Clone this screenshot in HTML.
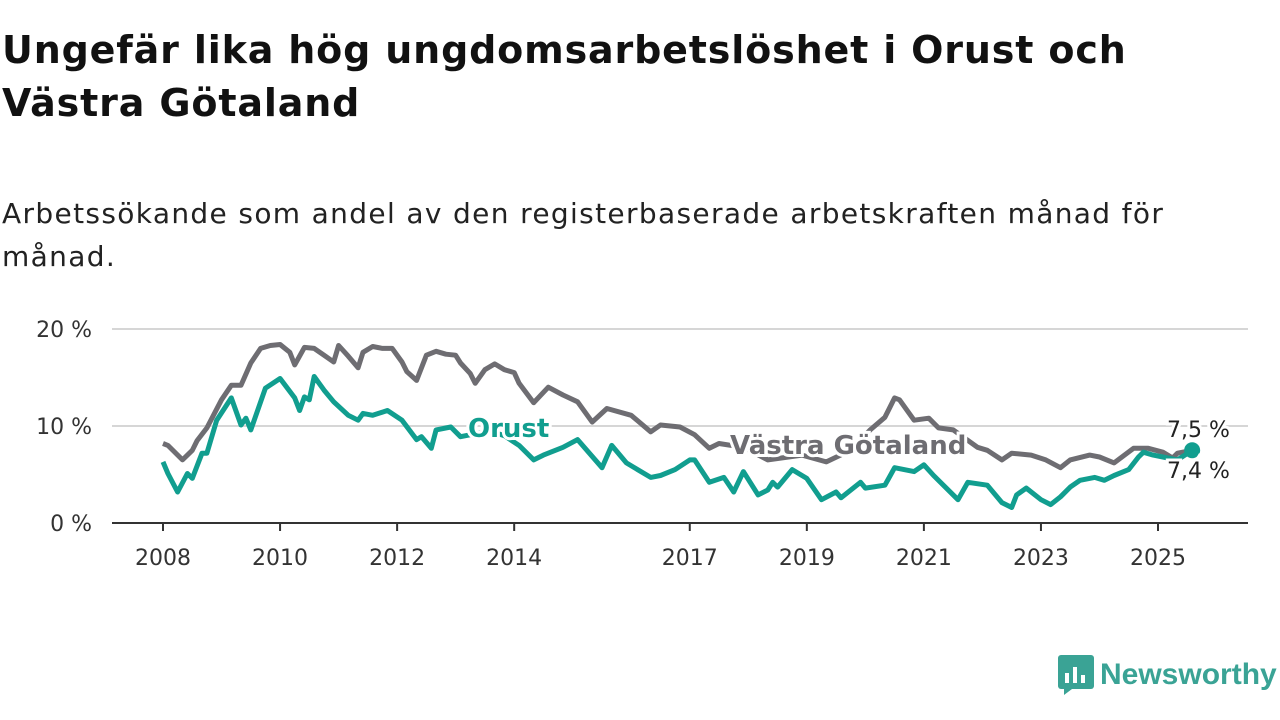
<!DOCTYPE html>
<html><head><meta charset="utf-8">
<style>
body{margin:0;width:1280px;height:720px;background:#fff;font-family:"DejaVu Sans",sans-serif;overflow:hidden}
h1{position:absolute;left:2px;top:24px;margin:0;font-size:38px;line-height:53px;font-weight:bold;color:#111;letter-spacing:0.85px}
p{position:absolute;left:2px;top:192px;margin:0;font-size:28px;line-height:43px;color:#222;letter-spacing:1.35px}
svg{position:absolute;left:0;top:0}
</style></head><body>
<h1>Ungefär lika hög ungdomsarbetslöshet i Orust och<br>Västra Götaland</h1>
<p>Arbetssökande som andel av den registerbaserade arbetskraften månad för<br>månad.</p>
<svg id="chart" width="1280" height="720"></svg>
<script>
const yTicks=[0,10,20];
const yTickLabels=["0 %","10 %","20 %"];
const xTicks=[2008,2010,2012,2014,2017,2019,2021,2023,2025];
// months since Jan 2008
const vgMonths=[0,1,4,6,7,9,12,14,16,18,20,22,24,26,27,29,31,33,35,36,38,40,41,43,45,47,49,50,52,54,56,58,60,61,63,64,66,68,70,72,73,76,79,82,85,88,91,96,100,102,106,109,112,114,119,124,131,136,141,145,148,150,151,154,157,159,162,167,169,172,174,178,181,184,186,190,192,195,199,202,205,207,208,211];
const vgValues=[8.2,8.0,6.5,7.5,8.5,9.8,12.7,14.2,14.2,16.5,18.0,18.3,18.4,17.6,16.3,18.1,18.0,17.3,16.6,18.3,17.2,16.0,17.6,18.2,18.0,18.0,16.6,15.6,14.7,17.3,17.7,17.4,17.3,16.5,15.4,14.4,15.8,16.4,15.8,15.5,14.4,12.4,14.0,13.2,12.5,10.4,11.8,11.1,9.4,10.1,9.9,9.1,7.7,8.2,7.8,6.5,7.0,6.3,7.5,9.6,10.9,12.9,12.7,10.6,10.8,9.8,9.6,7.8,7.5,6.5,7.2,7.0,6.5,5.7,6.5,7.0,6.8,6.2,7.7,7.7,7.3,6.7,7.2,7.5];
const orMonths=[0,1,3,5,6,8,9,11,14,16,17,18,21,24,27,28,29,30,31,33,35,38,40,41,43,46,49,52,53,55,56,59,61,67,70,73,76,78,82,85,90,92,95,100,102,105,108,109,112,115,117,119,122,124,125,126,129,132,135,138,139,143,144,148,150,154,156,158,163,165,169,172,174,175,177,180,182,184,186,188,191,193,195,198,200,201,203,205,208,211];
const orValues=[6.3,5.1,3.2,5.1,4.6,7.2,7.2,10.6,12.9,10.1,10.8,9.6,13.9,14.9,12.9,11.6,13.0,12.7,15.1,13.7,12.5,11.1,10.6,11.3,11.1,11.6,10.6,8.6,8.9,7.7,9.6,9.9,8.9,9.5,9.0,8.0,6.5,7.0,7.8,8.6,5.7,8.0,6.2,4.7,4.9,5.5,6.5,6.5,4.2,4.7,3.2,5.3,2.9,3.4,4.2,3.7,5.5,4.6,2.4,3.2,2.6,4.2,3.6,3.9,5.7,5.3,6.0,4.9,2.4,4.2,3.9,2.1,1.6,2.9,3.6,2.4,1.9,2.7,3.7,4.4,4.7,4.4,4.9,5.5,6.8,7.3,7.0,6.8,6.5,7.5];
const endLabels=["7,5 %","7,4 %"];

const NS="http://www.w3.org/2000/svg";
const svg=document.getElementById('chart');
const FF='DejaVu Sans, sans-serif';
const X=yr=>163+(yr-2008)*58.53;
const XM=m=>X(2008+m/12);
const Y=v=>523-v*9.7;
function mk(t,a,p){const e=document.createElementNS(NS,t);for(const k in a)e.setAttribute(k,a[k]);(p||svg).appendChild(e);return e;}

yTicks.forEach((v,i)=>{
  if(v>0){const g=mk('line',{x1:112,x2:1248,y1:Y(v),y2:Y(v),stroke:'#d6d6d6','stroke-width':2});
  
  }
  const t=mk('text',{x:92,y:Y(v)+8,'text-anchor':'end','font-size':22,fill:'#333','font-family':FF});
  t.textContent=yTickLabels[i];
  
  
});
const ax=mk('line',{x1:112,x2:1248,y1:Y(0),y2:Y(0),stroke:'#333','stroke-width':2});


xTicks.forEach(yr=>{
  const tk=mk('line',{x1:X(yr),x2:X(yr),y1:Y(0),y2:Y(0)+8,stroke:'#333','stroke-width':2});
  
  
  const t=mk('text',{x:X(yr),y:565,'text-anchor':'middle','font-size':22,fill:'#333','font-family':FF});
  t.textContent=yr;
  
  
});
function line(ms,vs,col,name){
  const d=ms.map((m,i)=>(i?'L':'M')+XM(m).toFixed(1)+' '+Y(vs[i]).toFixed(1)).join(' ');
  const p=mk('path',{d:d,fill:'none',stroke:col,'stroke-width':5,'stroke-linejoin':'round'});
  
  
}
line(vgMonths,vgValues,'#6e6d72','series-vastra-gotaland');
line(orMonths,orValues,'#119e8f','series-orust');
const dot=mk('circle',{cx:XM(orMonths[orMonths.length-1]),cy:Y(orValues[orValues.length-1]),r:8,fill:'#119e8f'});



function lbl(x,y,txt,col,size,bold,name){
  const t=mk('text',{x:x,y:y,'font-size':size,'font-weight':bold?'bold':'normal',fill:col,stroke:'#fff','stroke-width':6,'paint-order':'stroke','font-family':FF});
  t.textContent=txt;
  
  
}
lbl(468,437,'Orust','#119e8f',26,true,'orust-label');
lbl(730,454,'Västra Götaland','#6e6d72',26,true,'vastra-gotaland-label');
lbl(1167,437,endLabels[0],'#222',22,false,'end-value-vg');
lbl(1167,478,endLabels[1],'#222',22,false,'end-value-orust');
</script>
<div style="position:absolute;left:1058px;top:655px;display:flex;align-items:center">
<svg width="36" height="40" style="position:static"><rect x="0" y="0" width="36" height="34" rx="3" fill="#3aa395"/><polygon points="6,34 14,34 6,40" fill="#3aa395"/><rect x="7" y="18" width="4" height="10" fill="#fff"/><rect x="15" y="12" width="4" height="16" fill="#fff"/><rect x="23" y="20" width="4" height="8" fill="#fff"/></svg>
<span style="margin-left:6px;font-size:30px;font-weight:bold;color:#3aa395;font-family:'Liberation Sans',sans-serif">Newsworthy</span></div>
</body></html>
